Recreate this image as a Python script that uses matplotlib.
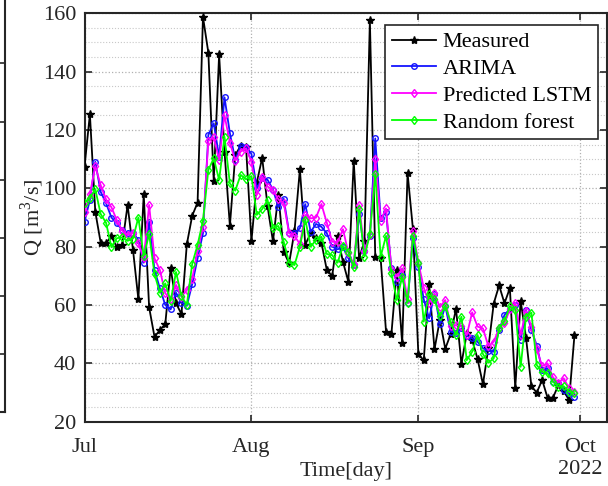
import numpy as np
import pandas as pd
import matplotlib
matplotlib.use("Agg")
import matplotlib.pyplot as plt
import matplotlib.dates as mdates
from matplotlib.ticker import MultipleLocator
from matplotlib.lines import Line2D

plt.rcParams['font.family'] = ['Liberation Serif', 'DejaVu Serif']
plt.rcParams['mathtext.fontset'] = 'custom'
plt.rcParams['mathtext.rm'] = 'Liberation Serif'

start_date = "2022-07-01"
n_days = 92

measured = [107.4, 125.4, 92.0, 81.4, 81.2, 83.6, 79.8, 80.6, 94.3, 79.0,
            62.0, 97.9, 59.2, 49.1, 51.4, 53.5, 72.7, 60.6, 56.9, 80.8,
            90.6, 95.1, 158.8, 146.5, 102.5, 145.9, 112.6, 87.1, 111.4, 114.6,
            114.3, 81.9, 102.0, 110.5, 93.8, 81.8, 97.8, 78.3, 74.3, 85.3,
            106.5, 80.7, 84.6, 83.0, 81.4, 72.0, 69.9, 83.8, 74.8, 68.0,
            109.5, 76.0, 82.0, 157.6, 76.6, 76.0, 50.9, 50.1, 72.0, 46.9,
            105.2, 86.0, 43.3, 41.0, 67.2, 44.8, 55.0, 45.0, 50.0, 58.7,
            39.8, 50.3, 48.0, 41.5, 32.8, 45.2, 60.5, 66.7, 60.6, 65.8,
            31.5, 61.5, 48.8, 32.1, 30.0, 34.3, 28.2, 28.2, 32.5, 30.5,
            27.4, 49.7]

arima = [88.6, 96.0, 109.1, 98.8, 94.9, 90.0, 88.0, 85.7, 84.8, 84.8,
         82.3, 74.5, 88.6, 72.0, 65.7, 60.0, 58.5, 64.2, 60.8, 59.7,
         67.2, 76.0, 84.6, 118.3, 122.3, 110.8, 131.2, 118.9, 109.7, 114.5,
         114.3, 111.8, 100.0, 103.5, 102.9, 99.6, 93.6, 96.4, 84.8, 84.6,
         86.3, 94.6, 85.1, 87.8, 86.8, 84.6, 80.0, 79.1, 79.8, 76.0,
         73.7, 91.2, 78.6, 83.7, 117.1, 89.7, 92.0, 72.6, 68.0, 70.3,
         60.8, 82.9, 73.0, 62.0, 55.4, 63.8, 53.5, 59.7, 50.9, 50.3,
         52.0, 49.4, 48.6, 47.4, 45.2, 44.3, 44.0, 51.4, 56.6, 58.7,
         60.0, 48.0, 58.3, 51.4, 46.1, 37.7, 38.3, 33.7, 33.2, 30.9,
         29.7, 28.6]

lstm = [91.8, 98.0, 107.6, 101.1, 96.2, 93.5, 89.1, 85.5, 84.0, 84.8,
        81.2, 76.0, 94.3, 76.0, 72.0, 64.0, 62.0, 66.9, 62.9, 65.1,
        69.0, 78.6, 86.8, 116.3, 117.5, 109.7, 125.1, 115.6, 109.5, 112.6,
        113.7, 109.1, 97.7, 104.0, 100.6, 99.4, 96.2, 94.9, 84.6, 83.7,
        80.9, 90.9, 89.7, 90.0, 94.6, 88.2, 81.7, 81.5, 86.0, 77.9,
        74.1, 94.3, 78.6, 84.0, 109.9, 88.9, 93.1, 72.2, 69.7, 72.6,
        62.0, 85.5, 74.5, 66.0, 60.6, 64.0, 59.2, 61.7, 52.8, 53.1,
        52.8, 49.7, 57.5, 52.6, 52.0, 45.9, 47.4, 52.0, 53.7, 58.5,
        60.8, 49.7, 58.0, 52.6, 44.8, 39.0, 40.0, 35.2, 33.4, 34.9,
        31.4, 30.3]

rforest = [95.1, 96.6, 99.7, 91.2, 88.2, 79.8, 82.9, 83.2, 82.0, 82.8,
           90.0, 76.8, 84.3, 70.6, 64.2, 67.4, 61.4, 71.3, 63.1, 60.0,
           74.1, 80.6, 88.9, 106.3, 110.3, 102.9, 117.7, 101.7, 99.2, 104.6,
           103.1, 104.2, 90.9, 92.9, 96.0, 86.3, 87.1, 81.7, 74.5, 73.7,
           80.0, 89.3, 80.0, 82.3, 83.4, 77.5, 77.1, 74.5, 80.2, 78.3,
           72.9, 92.8, 76.6, 84.3, 104.9, 76.6, 83.7, 70.9, 61.7, 69.7,
           60.8, 83.7, 74.5, 54.3, 63.8, 61.9, 56.2, 59.7, 54.3, 49.7,
           56.0, 41.1, 44.0, 49.7, 43.2, 40.2, 41.7, 52.0, 54.6, 59.5,
           58.3, 38.8, 56.0, 57.4, 39.4, 37.1, 36.6, 33.7, 32.0, 32.2,
           30.3, 29.7]

series_labels = ["Measured", "ARIMA", "Predicted LSTM", "Random forest"]
month_ticks = ["2022-07-01", "2022-08-01", "2022-09-01", "2022-10-01"]

dates = pd.date_range(start_date, periods=n_days, freq="D")

fig = plt.figure(figsize=(6.08, 4.86), dpi=100)
ax = fig.add_axes([0.139, 0.1323, 0.859, 0.8403])

ax.plot(dates, measured, color='black', lw=1.3, marker='*', ms=6,
        label=series_labels[0], zorder=3)
ax.plot(dates, arima, color='#1414ff', lw=1.3, marker='o', ms=4,
        mfc='none', mew=1.0, label=series_labels[1], zorder=4)
ax.plot(dates, lstm, color='#ff00ff', lw=1.3, marker='d', ms=4.5,
        mfc='none', mew=1.0, label=series_labels[2], zorder=5)
ax.plot(dates, rforest, color='#00ff00', lw=1.3, marker='d', ms=4.5,
        mfc='none', mew=1.0, label=series_labels[3], zorder=6)

ax.set_xlim(pd.Timestamp("2022-07-01"), pd.Timestamp("2022-10-06"))
ax.set_ylim(20, 160)
ax.set_xticks(pd.to_datetime(month_ticks))
ax.xaxis.set_major_formatter(mdates.DateFormatter('%b'))
ax.yaxis.set_major_locator(MultipleLocator(20))
ax.yaxis.set_minor_locator(MultipleLocator(5))

ax.grid(which='major', axis='both', linestyle=':', color='#b0b0b0', lw=0.9)
ax.grid(which='minor', axis='y', linestyle=':', color='#c8c8c8', lw=0.8)
ax.set_axisbelow(True)

ax.tick_params(which='major', direction='in', length=5, width=1.2,
               top=True, right=True, labelsize=16, colors='#262626',
               labelcolor='#262626')
ax.tick_params(axis='x', which='major', pad=12)
ax.tick_params(axis='y', which='major', pad=6)
ax.tick_params(which='minor', length=0, left=False, right=False)
for s in ax.spines.values():
    s.set_linewidth(1.5)
    s.set_color('#262626')

ax.set_ylabel("Q [m$^3$/s]", fontsize=16, color='#262626', labelpad=-2)
ax.set_xlabel("Time[day]", fontsize=16, color='#262626', labelpad=3)
ax.text(pd.Timestamp("2022-10-01"), -0.117, "2022", transform=ax.get_xaxis_transform(),
        ha='center', va='center', fontsize=16, color='#262626')

leg = ax.legend(loc='upper right', bbox_to_anchor=(0.983, 0.971), borderaxespad=0,
                fontsize=16, frameon=True, fancybox=False, framealpha=1,
                edgecolor='#262626', handlelength=2.0, handletextpad=0.3,
                labelspacing=0.28, borderpad=0.3)
leg.get_frame().set_linewidth(1.2)

# fragment of neighbouring panel at left edge
fig.add_artist(Line2D([5/608, 5/608], [1, 1-412/486], color='#262626', lw=1.5))
fig.add_artist(Line2D([0, 5/608], [1-412/486, 1-412/486], color='#262626', lw=1.5))
for yy in [63, 122, 180, 238, 296, 354]:
    fig.add_artist(Line2D([0, 5/608], [1-yy/486, 1-yy/486], color='#262626', lw=1.2))

fig.savefig("out.png", dpi=100)
